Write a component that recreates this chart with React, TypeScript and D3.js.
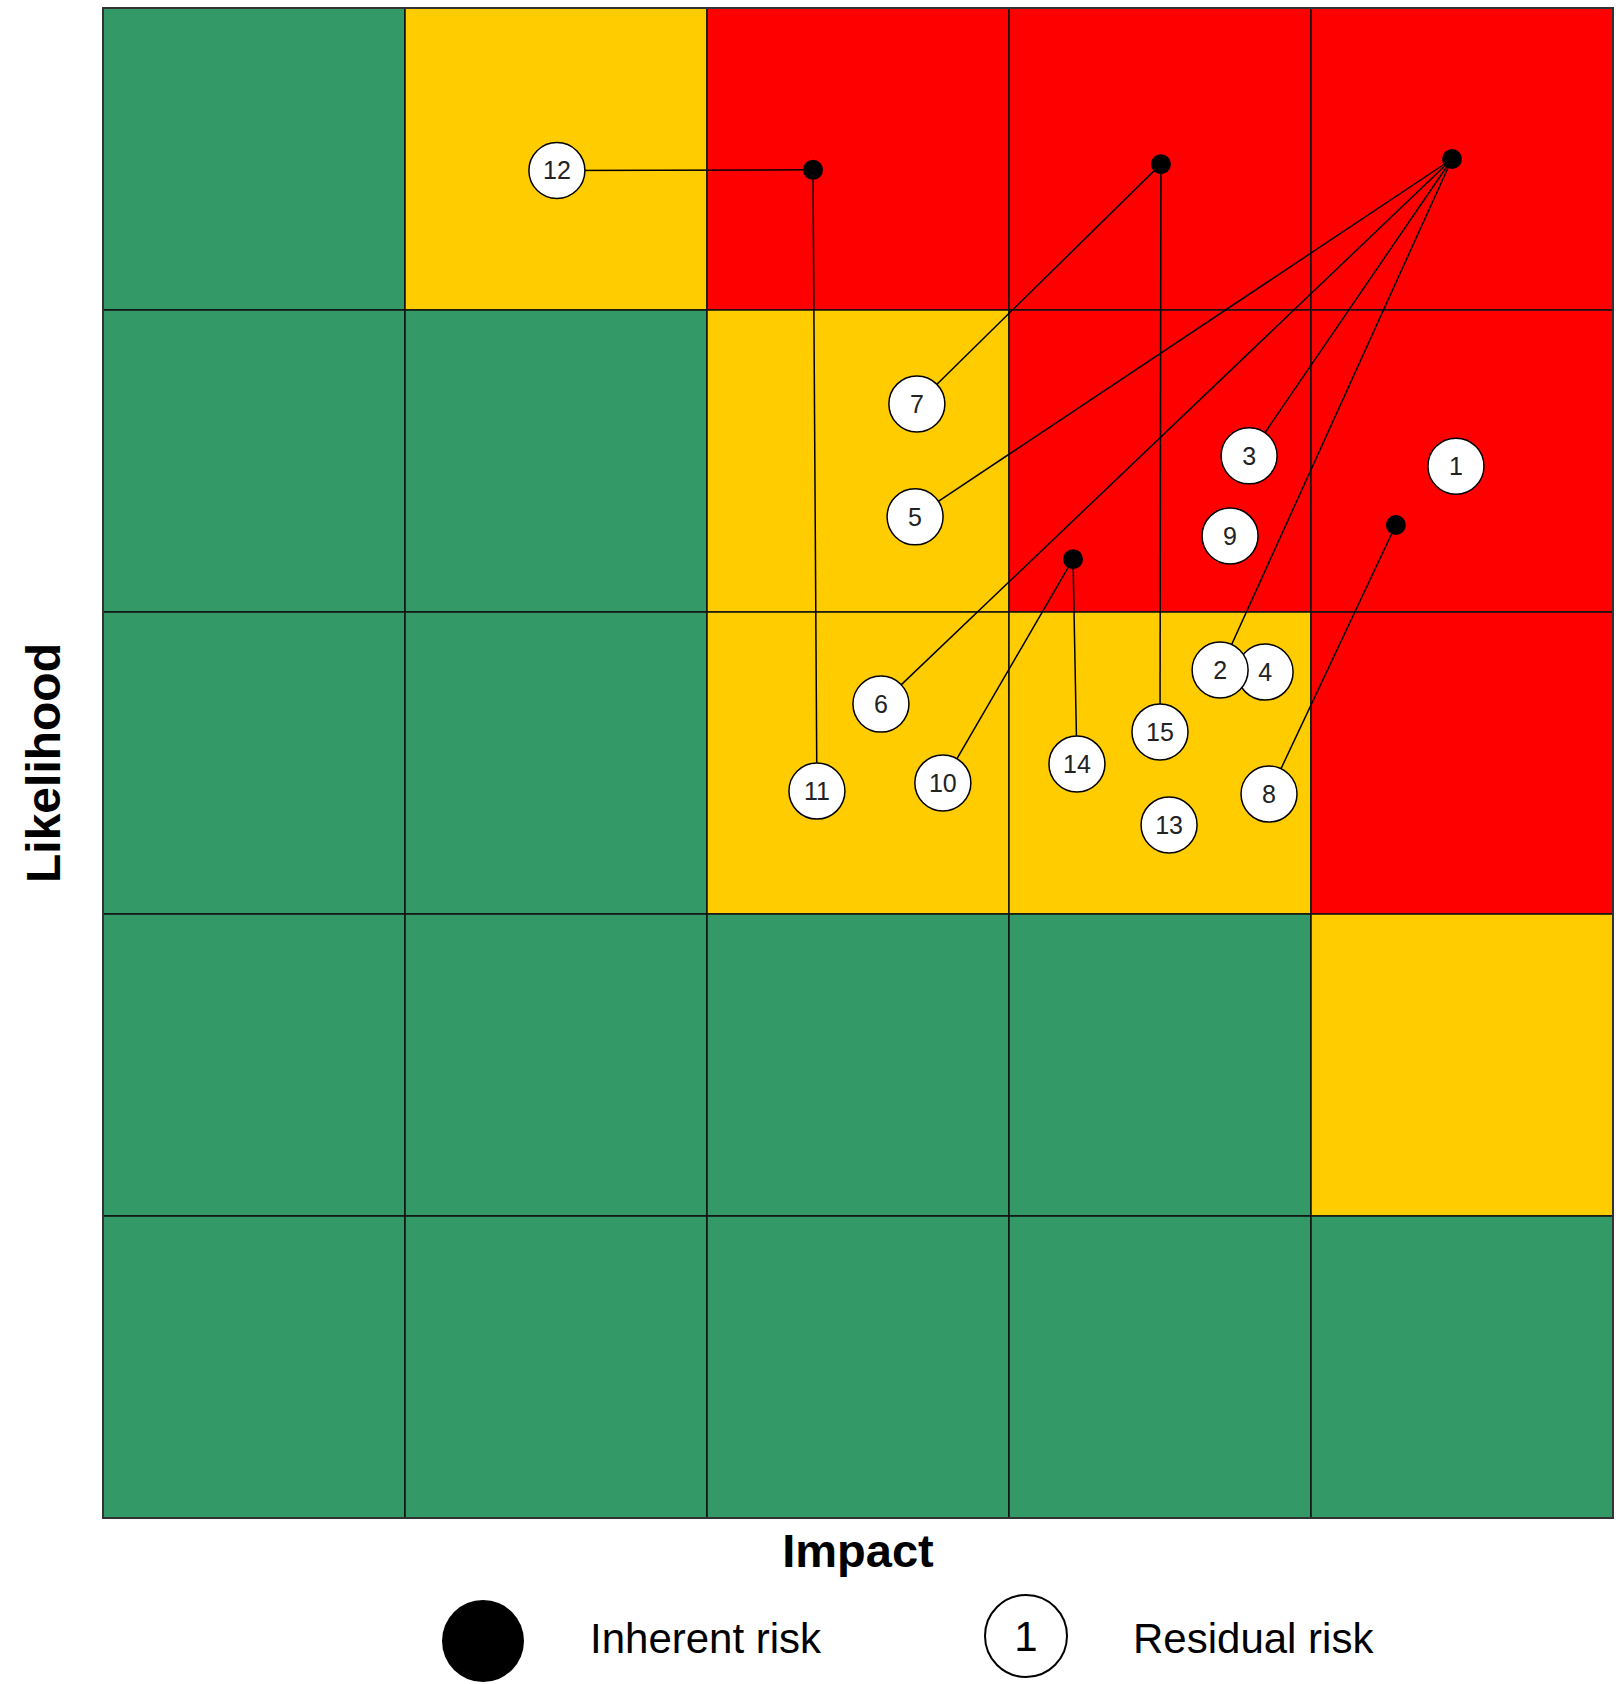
import * as d3 from "d3";
import { useEffect, useRef } from "react";

// impact (columns) and likelihood (rows), 1..5
const impactLevels = [1, 2, 3, 4, 5];
const likelihoodLevels = [1, 2, 3, 4, 5];

// rating per cell, rows from likelihood 5 down to 1, columns impact 1..5
const ratingRows = [
    ["low", "medium", "high", "high", "high"],
    ["low", "low", "medium", "high", "high"],
    ["low", "low", "medium", "medium", "high"],
    ["low", "low", "low", "low", "medium"],
    ["low", "low", "low", "low", "low"],
];

// inherent risks (black dots), position in cell units
const inherentIds = ["A", "B", "C", "D", "E"];
const inherentImpact = [2.351, 3.503, 4.467, 3.212, 4.281];
const inherentLikelihood = [4.464, 4.483, 4.5, 3.175, 3.288];

// residual risks (numbered circles)
const residualIds = [1, 2, 3, 4, 5, 6, 7, 8, 9, 10, 11, 12, 13, 14, 15];
const residualImpact = [4.48, 3.699, 3.795, 3.848, 2.689, 2.576, 2.695, 3.861, 3.732, 2.781, 2.364, 1.503, 3.53, 3.225, 3.5];
const residualLikelihood = [3.483, 2.808, 3.517, 2.801, 3.315, 2.695, 3.689, 2.397, 3.252, 2.434, 2.407, 4.462, 2.295, 2.497, 2.603];
// which inherent risk each residual came from ("" = no line)
const residualFrom = ["", "C", "C", "", "C", "C", "B", "E", "", "D", "A", "A", "", "D", "B"];

const ratingColor: Record<string, string> = {
    low: "#339966",
    medium: "#ffcc00",
    high: "#ff0000",
};

function RiskMatrix() {
    const ref = useRef<SVGSVGElement>(null);
    const width = 1624;
    const height = 1684;

    useEffect(() => {
        const svg = d3.select(ref.current);
        svg.selectAll("*").remove();

        const margin = { left: 103, top: 8 };
        const gridSize = 1510;

        const x = d3.scaleLinear().domain([0, impactLevels.length]).range([margin.left, margin.left + gridSize]);
        const y = d3.scaleLinear().domain([0, likelihoodLevels.length]).range([margin.top + gridSize, margin.top]);

        const cells = ratingRows.flatMap((row, r) =>
            row.map((rating, c) => ({ impact: impactLevels[c], likelihood: likelihoodLevels[likelihoodLevels.length - 1 - r], rating }))
        );

        // heat map cells
        svg.append("g")
            .selectAll("rect")
            .data(cells)
            .join("rect")
            .attr("x", d => x(d.impact - 1))
            .attr("y", d => y(d.likelihood))
            .attr("width", x(1) - x(0))
            .attr("height", y(0) - y(1))
            .attr("fill", d => ratingColor[d.rating])
            .attr("stroke", "#111")
            .attr("stroke-width", 1.5);

        svg.append("rect")
            .attr("x", x(0))
            .attr("y", y(5))
            .attr("width", x(5) - x(0))
            .attr("height", y(0) - y(5))
            .attr("fill", "none")
            .attr("stroke", "#333")
            .attr("stroke-width", 2);

        const inherent = inherentIds.map((id, i) => ({ id, ix: inherentImpact[i], ly: inherentLikelihood[i] }));
        const residual = residualIds.map((id, i) => ({ id, ix: residualImpact[i], ly: residualLikelihood[i], from: residualFrom[i] }));
        const byId = new Map(inherent.map(d => [d.id, d]));

        // connector lines
        svg.append("g")
            .selectAll("line")
            .data(residual.filter(d => d.from))
            .join("line")
            .attr("x1", d => x(byId.get(d.from)!.ix))
            .attr("y1", d => y(byId.get(d.from)!.ly))
            .attr("x2", d => x(d.ix))
            .attr("y2", d => y(d.ly))
            .attr("stroke", "#000")
            .attr("stroke-width", 1.5);

        // residual circles, drawn so lower numbers end up on top
        const res = svg.append("g")
            .selectAll("g")
            .data(residual.slice().reverse())
            .join("g")
            .attr("transform", d => `translate(${x(d.ix)},${y(d.ly)})`);
        res.append("circle")
            .attr("r", 28)
            .attr("fill", "#fff")
            .attr("stroke", "#000")
            .attr("stroke-width", 1.5);
        res.append("text")
            .attr("text-anchor", "middle")
            .attr("dy", "0.36em")
            .style("font-family", "'Liberation Sans', Arial, sans-serif")
            .style("font-size", "25px")
            .attr("fill", "#222")
            .text(d => d.id);

        // inherent dots
        svg.append("g")
            .selectAll("circle")
            .data(inherent)
            .join("circle")
            .attr("cx", d => x(d.ix))
            .attr("cy", d => y(d.ly))
            .attr("r", 10)
            .attr("fill", "#000");

        // axis titles
        svg.append("text")
            .attr("x", x(2.5))
            .attr("y", 1567)
            .attr("text-anchor", "middle")
            .style("font-family", "'Liberation Sans', Arial, sans-serif")
            .style("font-size", "47px")
            .style("font-weight", "bold")
            .text("Impact");

        svg.append("text")
            .attr("transform", `translate(60,${y(2.5)}) rotate(-90)`)
            .attr("text-anchor", "middle")
            .style("font-family", "'Liberation Sans', Arial, sans-serif")
            .style("font-size", "48px")
            .style("font-weight", "bold")
            .text("Likelihood");

        // legend
        const legend = svg.append("g").style("font-family", "'Liberation Sans', Arial, sans-serif");
        legend.append("circle").attr("cx", 483).attr("cy", 1641).attr("r", 41).attr("fill", "#000");
        legend.append("text").attr("x", 590).attr("y", 1653).style("font-size", "42px").text("Inherent risk");
        legend.append("circle").attr("cx", 1026).attr("cy", 1636).attr("r", 41)
            .attr("fill", "#fff").attr("stroke", "#000").attr("stroke-width", 2);
        legend.append("text").attr("x", 1026).attr("y", 1651).attr("text-anchor", "middle")
            .style("font-size", "42px").text("1");
        legend.append("text").attr("x", 1133).attr("y", 1653).style("font-size", "42px").text("Residual risk");
    }, []);

    return <svg ref={ref} width={width} height={height}
        style={{ position: "absolute", left: 0, top: 0, background: "#fff" }} />;
}

export default function App() {
    return <RiskMatrix />;
}
